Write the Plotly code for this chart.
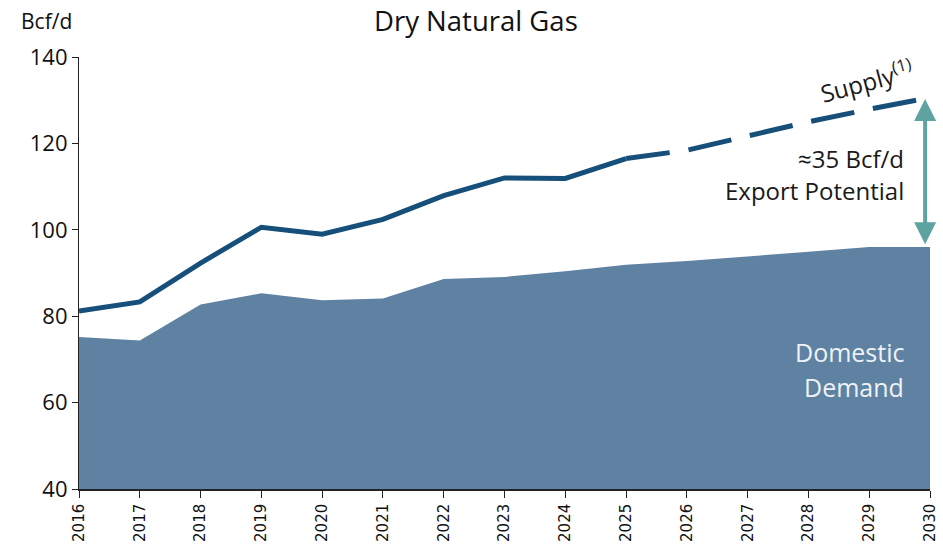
import plotly.graph_objects as go

years = list(range(2016, 2031))
demand = [75.2, 74.4, 82.7, 85.3, 83.7, 84.1, 88.6, 89.1, 90.4, 91.9, 92.8, 93.8, 94.9, 96.0, 96.0]
supply_hist_years = list(range(2016, 2026))
supply_hist = [81.2, 83.3, 92.3, 100.6, 99.0, 102.4, 107.9, 112.0, 111.9, 116.5]
supply_proj_years = list(range(2025, 2031))
supply_proj = [116.5, 118.4, 121.7, 125.0, 127.9, 130.6]

fill_color = "#5f82a3"
line_color = "#154f7a"
arrow_color = "#5ea39f"
font_main = "Open Sans"

fig = go.Figure()
fig.add_trace(go.Scatter(x=years, y=demand, mode="lines", fill="tozeroy",
                         fillcolor=fill_color, line=dict(width=0, color=fill_color),
                         hoverinfo="skip", showlegend=False))
fig.add_trace(go.Scatter(x=supply_hist_years, y=supply_hist, mode="lines",
                         line=dict(width=5, color=line_color), showlegend=False))
fig.add_trace(go.Scatter(x=supply_proj_years, y=supply_proj, mode="lines",
                         line=dict(width=5, color=line_color, dash="44px,19px"),
                         showlegend=False))

fig.add_annotation(x=years[-1] - 0.08, y=supply_proj[-1] - 0.3, ax=years[-1] - 0.08, ay=demand[-1] + 0.3,
                   xref="x", yref="y", axref="x", ayref="y", text="",
                   showarrow=True, arrowhead=2, arrowside="end+start",
                   arrowwidth=4, arrowsize=1.1, arrowcolor=arrow_color)

fig.add_annotation(x=2029.6, y=116.6, xref="x", yref="y", text="≈35 Bcf/d",
                   showarrow=False, xanchor="right", yanchor="middle",
                   font=dict(family=font_main, size=24, color="#1a1a1a"))
fig.add_annotation(x=2029.6, y=109.0, xref="x", yref="y", text="Export Potential",
                   showarrow=False, xanchor="right", yanchor="middle",
                   font=dict(family=font_main, size=24, color="#1a1a1a"))
fig.add_annotation(x=2029.6, y=71.6, xref="x", yref="y", text="Domestic",
                   showarrow=False, xanchor="right", yanchor="middle",
                   font=dict(family=font_main, size=25, color="#eef2f6"))
fig.add_annotation(x=2029.6, y=63.6, xref="x", yref="y", text="Demand",
                   showarrow=False, xanchor="right", yanchor="middle",
                   font=dict(family=font_main, size=25, color="#eef2f6"))
fig.add_annotation(x=2028.95, y=134.6, xref="x", yref="y", text="Supply<sup>(1)</sup>",
                   showarrow=False, textangle=-15, xanchor="center", yanchor="middle",
                   font=dict(family=font_main, size=24, color="#1a1a1a"))

fig.add_annotation(x=0.5, y=1.0, xref="paper", yref="paper", yshift=37, xshift=-29,
                   text="Dry Natural Gas", showarrow=False, xanchor="center", yanchor="middle",
                   font=dict(family=font_main, size=27.5, color="#111111"))
fig.add_annotation(x=0, y=1.0, xref="paper", yref="paper", xshift=-33, yshift=36,
                   text="Bcf/d", showarrow=False, xanchor="center", yanchor="middle",
                   font=dict(family=font_main, size=21, color="#111111"))

fig.update_layout(
    width=943, height=548,
    margin=dict(l=79, r=13, t=57, b=59),
    plot_bgcolor="white", paper_bgcolor="white",
    showlegend=False,
    xaxis=dict(range=[2016, 2030], tickmode="array", tickvals=years,
               ticktext=[str(y) for y in years], tickangle=-90, automargin=False,
               showgrid=False, zeroline=False, showline=True, linecolor="#222222",
               linewidth=1.5, ticks="outside", ticklen=7, tickcolor="#222222",
               tickfont=dict(family="DejaVu Sans", size=15, color="#111111")),
    yaxis=dict(range=[40, 140], tickvals=[40, 60, 80, 100, 120, 140], automargin=False,
               showgrid=False, zeroline=False, showline=True, linecolor="#222222",
               linewidth=1.2, ticks="outside", ticklen=6, tickcolor="#222222",
               tickfont=dict(family=font_main, size=22, color="#111111")),
)

fig.write_html("out.html", config={"displayModeBar": False},
               post_script="document.body.style.margin='0';")
